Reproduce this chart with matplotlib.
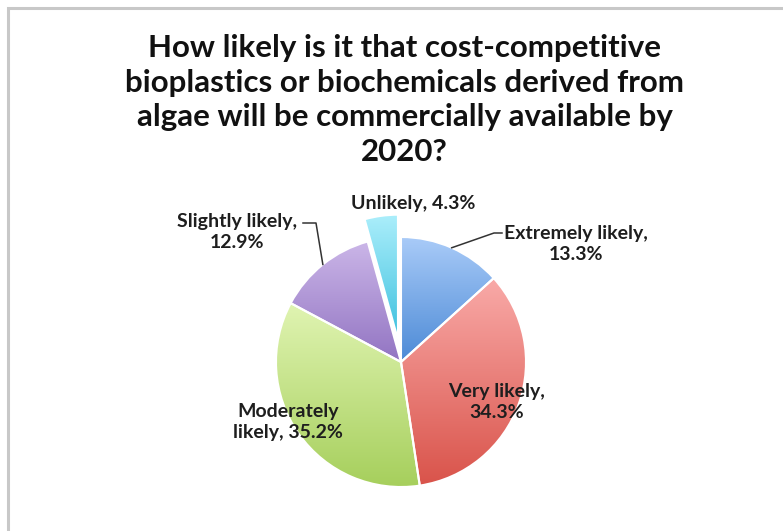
import numpy as np
import matplotlib.pyplot as plt
from matplotlib.colors import LinearSegmentedColormap
from matplotlib.patches import Rectangle

# survey answers, clockwise from 12 o'clock
answers = ['Extremely likely', 'Very likely', 'Moderately likely',
           'Slightly likely', 'Unlikely']
shares = [13.3, 34.3, 35.2, 12.9, 4.3]
pulled_out = [0, 0, 0, 0, 0.18]   # fraction of the radius

# light (top) and dark (bottom) shade for each slice
light = ['#a9cbf8', '#f9aaa8', '#e0f4b2', '#cbb6e8', '#abeefb']
dark = ['#4c8ad6', '#d9534a', '#a6cf5c', '#9274c2', '#3cc0de']

title = ('How likely is it that cost-competitive\n'
         'bioplastics or biochemicals derived from\n'
         'algae will be commercially available by\n'
         '2020?')

W, H = 783, 531
fig = plt.figure(figsize=(W / 100, H / 100), dpi=100)
ax = fig.add_axes([0, 0, 1, 1])

cx, cy, r = 401, H - 362, 125
wedges, _ = ax.pie(shares, explode=[e * r for e in pulled_out], startangle=90,
                   counterclock=False, center=(cx, cy), radius=r,
                   wedgeprops=dict(edgecolor='white', linewidth=1.5))

# vertical gradient inside every slice
grad = np.linspace(0, 1, 256).reshape(-1, 1)
for w, c0, c1 in zip(wedges, light, dark):
    ext = w.get_path().get_extents()
    cmap = LinearSegmentedColormap.from_list('g', [c1, c0])
    im = ax.imshow(grad, cmap=cmap, origin='lower', aspect='auto',
                   extent=(ext.x0, ext.x1, ext.y0, ext.y1), zorder=1)
    im.set_clip_path(w)
    w.set_facecolor('none')
    w.set_zorder(2)

ax.set_xlim(0, W)
ax.set_ylim(0, H)
ax.axis('off')

# chart border (only top and left show)
ax.add_patch(Rectangle((7.5, -20), W + 20, H - 7.5 + 20, fill=False,
                       edgecolor='#c8c8c8', linewidth=2.2, clip_on=False))

font = 'Lato'
ax.text(W / 2 + 13, H - 100, title, ha='center', va='center', fontsize=22.5,
        fontweight='bold', family=font, linespacing=1.28, color='#111111')

lbl = dict(ha='center', va='center', fontsize=14, fontweight='bold',
           family=font, color='#1e1e1e', linespacing=1.35, zorder=5)


def label(i, x, y, two_lines):
    sep = '\n' if two_lines else ' '
    name = answers[i]
    if i == 2:
        text = 'Moderately\nlikely, {}%'.format(shares[i])
    else:
        text = '{},{}{}%'.format(name, sep, shares[i])
    ax.text(x, H - y, text, **lbl)


def arc_point(w):
    mid = np.deg2rad((w.theta1 + w.theta2) / 2)
    return w.center[0] + w.r * np.cos(mid), w.center[1] + w.r * np.sin(mid)


label(0, 576, 244, True)
label(1, 497, 402, True)
label(2, 288, 422, True)
label(3, 237, 232, True)
label(4, 413, 203, False)

# leader lines for the two labels outside the pie
px, py = arc_point(wedges[0])
ax.plot([502, 494, px], [H - 233, H - 233, py], color='#333333', lw=1.1, zorder=4)
px, py = arc_point(wedges[3])
ax.plot([303, 316, px], [H - 223, H - 223, py], color='#333333', lw=1.1, zorder=4)

fig.savefig('out.png', dpi=100, facecolor='white')
